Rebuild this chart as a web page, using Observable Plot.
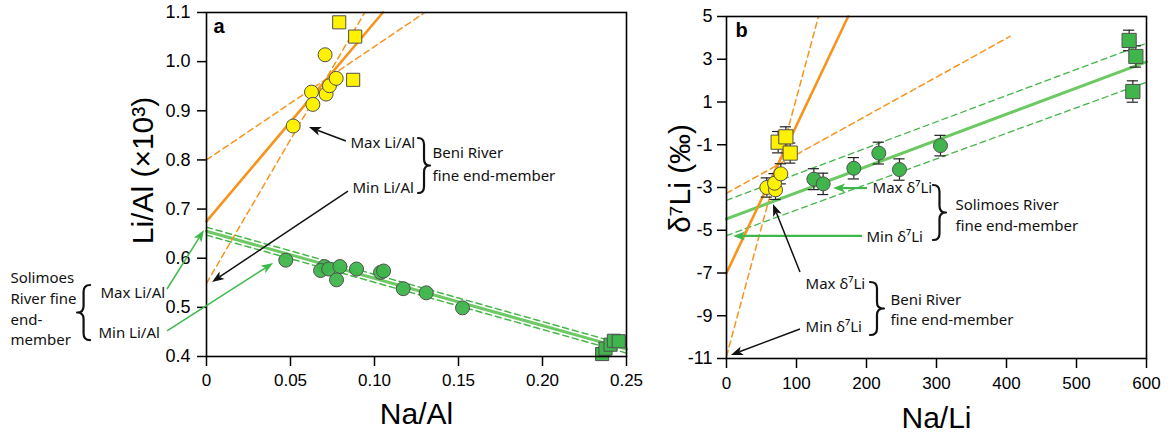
<!DOCTYPE html>
<html><head><meta charset="utf-8">
<script src="https://cdn.jsdelivr.net/npm/d3@7"></script>
<script src="https://cdn.jsdelivr.net/npm/@observablehq/plot@0.6"></script>
<style>
body{margin:0;background:#fff;}
#wrap{position:relative;width:1171px;height:442px;overflow:hidden;background:#fff}
#a{position:absolute;left:0;top:0}
#b{position:absolute;left:650px;top:0}
svg{overflow:visible}
</style></head><body><div id="wrap"><div id="a"></div><div id="b"></div></div>
<script>
// ---------- Panel a data (Na/Al vs Li/Al x10^3) ----------
const aBeniCircleNaAl = [0.0516,0.0706,0.0625,0.0633,0.0712,0.0732,0.0772];
const aBeniCircleLiAl = [0.869,1.014,0.938,0.913,0.934,0.951,0.966];
const aBeniSquareNaAl = [0.0790,0.0885,0.0873];
const aBeniSquareLiAl = [1.080,1.051,0.963];
const aSoliCircleNaAl = [0.0472,0.0702,0.0679,0.0728,0.0794,0.0774,0.0893,0.1036,0.1054,0.1171,0.1308,0.1524];
const aSoliCircleLiAl = [0.596,0.583,0.575,0.578,0.583,0.556,0.578,0.571,0.574,0.538,0.5295,0.499];
const aSoliSquareNaAl = [0.2355,0.2375,0.2405,0.2425,0.2454];
const aSoliSquareLiAl = [0.405,0.416,0.424,0.432,0.431];
// fit lines (end points)
const aBeniFitX = [0,0.105],   aBeniFitY = [0.675,1.1];
const aBeniMaxX = [0,0.130],   aBeniMaxY = [0.800,1.1];
const aBeniMinX = [0,0.0942],  aBeniMinY = [0.549,1.1];
const aSoliFitX = [0,0.25],    aSoliFitY = [0.655,0.415];
const aSoliMaxX = [0,0.25],    aSoliMaxY = [0.663,0.423];
const aSoliMinX = [0,0.25],    aSoliMinY = [0.647,0.407];
const aXTicks = [0,0.05,0.10,0.15,0.20,0.25];
const aXTickLabels = ["0","0.05","0.10","0.15","0.20","0.25"];
const aYTicks = [0.4,0.5,0.6,0.7,0.8,0.9,1.0,1.1];
const aYTickLabels = ["0.4","0.5","0.6","0.7","0.8","0.9","1.0","1.1"];

// ---------- Panel b data (Na/Li vs d7Li) ----------
const bBeniCircleNaLi = [57.6,70.0,68.6,77.6];
const bBeniCircleD7Li = [-3.00,-3.11,-2.80,-2.36];
const bBeniCircleErr  = [0.45,0.45,0.45,0.47];
const bBeniSquareNaLi = [73.8,84.8,91.0];
const bBeniSquareD7Li = [-0.88,-0.63,-1.39];
const bBeniSquareErr  = [0.50,0.47,0.47];
const bSoliCircleNaLi = [124.8,138.1,181.9,217.6,247.1,305.7];
const bSoliCircleD7Li = [-2.61,-2.83,-2.10,-1.39,-2.16,-1.04];
const bSoliCircleErr  = [0.49,0.50,0.50,0.51,0.50,0.48];
const bSoliSquareNaLi = [575.2,584.8,580.5];
const bSoliSquareD7Li = [3.88,3.13,1.49];
const bSoliSquareErr  = [0.48,0.50,0.50];
const bBeniFitX = [0,173.8],  bBeniFitY = [-7.0,5.0];
const bBeniMinX = [0,131.4],  bBeniMinY = [-10.9,5.0];
const bBeniMaxX = [0,405],    bBeniMaxY = [-3.27,4.07];
const bSoliFitX = [0,600],    bSoliFitY = [-4.47,2.88];
const bSoliMaxX = [0,600],    bSoliMaxY = [-3.60,3.75];
const bSoliMinX = [0,600],    bSoliMinY = [-5.25,1.93];
const bXTicks = [0,100,200,300,400,500,600];
const bXTickLabels = ["0","100","200","300","400","500","600"];
const bYTicks = [5,3,1,-1,-3,-5,-7,-9,-11];
const bYTickLabels = ["5","3","1","-1","-3","-5","-7","-9","-11"];

// ---------- styles ----------
const FONT = "'Liberation Sans', Arial, Helvetica, sans-serif";
const ANN = "'Noto Sans', 'Open Sans', sans-serif";
const ORANGE = "#f7941d";
const GLINE = "#6cc963";
const GDASH = "#45b649";
const GPT = "#3fb54c";
const YEL = "#fff200";
const PSTROKE = "#505050";

const pts = (xs, ys, es) => xs.map((x, i) => ({x, y: ys[i], e: es ? es[i] : 0}));
const lbl = (ticks, labels) => d => labels[ticks.findIndex(t => Math.abs(t - d) < 1e-9)];

function arrows(list) {
  return (index, scales) => {
    const g = d3.create("svg:g");
    for (const a of list) {
      const x1 = scales.x(a.x1), y1 = scales.y(a.y1), x2 = scales.x(a.x2), y2 = scales.y(a.y2);
      const dx = x2 - x1, dy = y2 - y1, L = Math.hypot(dx, dy), ux = dx / L, uy = dy / L;
      const hl = 12, hw = 4.5;
      const bx = x2 - ux * hl, by = y2 - uy * hl;
      g.append("line").attr("x1", x1).attr("y1", y1).attr("x2", bx + ux * 3).attr("y2", by + uy * 3)
        .attr("stroke", a.c).attr("stroke-width", a.w || 1.5);
      g.append("path").attr("d", `M${x2},${y2}L${bx - uy * hw},${by + ux * hw}L${bx + ux * 3},${by + uy * 3}L${bx + uy * hw},${by - ux * hw}Z`)
        .attr("fill", a.c);
    }
    return g.node();
  };
}
function braces(list) {
  return (index, scales) => {
    const g = d3.create("svg:g");
    for (const b of list) {
      const x = scales.x(b.x), y0 = scales.y(b.y0), y1 = scales.y(b.y1);
      const w = b.w * b.dir, m = (y0 + y1) / 2, h = y1 - y0, k = h * 0.12;
      const xm = x + w / 2, xt = x + w;
      const d = `M${x},${y0}Q${xm},${y0} ${xm},${y0 + k}L${xm},${m - k}Q${xm},${m} ${xt},${m}` +
                `Q${xm},${m} ${xm},${m + k}L${xm},${y1 - k}Q${xm},${y1} ${x},${y1}`;
      g.append("path").attr("d", d).attr("fill", "none").attr("stroke", "#111").attr("stroke-width", 2.2)
        .attr("stroke-linecap", "round").attr("stroke-linejoin", "round");
    }
    return g.node();
  };
}
const ann = list => Plot.text(list, {x: "x", y: "y", text: "t", textAnchor: "start", lineAnchor: "middle",
  fontFamily: ANN, fontSize: 15, fill: "#111"});

// ---------- Panel a ----------
const plotA = Plot.plot({
  width: 650, height: 442, marginLeft: 206, marginRight: 24, marginTop: 12, marginBottom: 86,
  style: {fontFamily: FONT, background: "white", color: "black", overflow: "visible"},
  x: {domain: [0, 0.25]}, y: {domain: [0.4, 1.1]},
  marks: [
    Plot.line(pts(aSoliMaxX, aSoliMaxY), {x: "x", y: "y", stroke: GDASH, strokeWidth: 1.5, strokeDasharray: "6,4"}),
    Plot.line(pts(aSoliMinX, aSoliMinY), {x: "x", y: "y", stroke: GDASH, strokeWidth: 1.5, strokeDasharray: "6,4"}),
    Plot.line(pts(aSoliFitX, aSoliFitY), {x: "x", y: "y", stroke: GLINE, strokeWidth: 3}),
    Plot.line(pts(aBeniMaxX, aBeniMaxY), {x: "x", y: "y", stroke: ORANGE, strokeWidth: 1.5, strokeDasharray: "6,4"}),
    Plot.line(pts(aBeniMinX, aBeniMinY), {x: "x", y: "y", stroke: ORANGE, strokeWidth: 1.5, strokeDasharray: "6,4"}),
    Plot.line(pts(aBeniFitX, aBeniFitY), {x: "x", y: "y", stroke: ORANGE, strokeWidth: 2.6}),
    Plot.dot(pts(aSoliCircleNaAl, aSoliCircleLiAl), {x: "x", y: "y", r: 7, fill: GPT, fillOpacity: 0.95, stroke: PSTROKE, strokeWidth: 1}),
    Plot.dot(pts(aSoliSquareNaAl, aSoliSquareLiAl), {x: "x", y: "y", r: 7.4, symbol: "square", fill: GPT, stroke: PSTROKE, strokeWidth: 1}),
    Plot.dot(pts(aBeniCircleNaAl, aBeniCircleLiAl), {x: "x", y: "y", r: 7, fill: YEL, stroke: PSTROKE, strokeWidth: 1}),
    Plot.dot(pts(aBeniSquareNaAl, aBeniSquareLiAl), {x: "x", y: "y", r: 7.4, symbol: "square", fill: YEL, stroke: PSTROKE, strokeWidth: 1}),
    Plot.frame({stroke: "black", strokeWidth: 1.6}),
    Plot.axisX({ticks: aXTicks, tickFormat: lbl(aXTicks, aXTickLabels), tickSize: 10, tickPadding: 7, fontSize: 17, label: null, strokeWidth: 1.5}),
    Plot.axisY({ticks: aYTicks, tickFormat: lbl(aYTicks, aYTickLabels), tickSize: 9, tickPadding: 7, fontSize: 18, label: null, strokeWidth: 1.5}),
    Plot.text(["Li/Al (×10³)"], {frameAnchor: "left", dx: -63, dy: -14, rotate: -90, textAnchor: "middle", lineAnchor: "middle", fontSize: 30, fontFamily: FONT}),
    Plot.text(["Na/Al"], {frameAnchor: "bottom", dy: 58, textAnchor: "middle", lineAnchor: "middle", fontSize: 30, fontFamily: FONT}),
    Plot.text(["a"], {x: 0.0042, y: 1.0715, textAnchor: "start", lineAnchor: "middle", fontSize: 20, fontWeight: "bold", fontFamily: FONT}),
    ann([
      {x: 0.0857, y: 0.8334, t: "Max Li/Al"},
      {x: 0.0869, y: 0.7418, t: "Min Li/Al"},
      {x: 0.1345, y: 0.813, t: "Beni River"},
      {x: 0.1345, y: 0.766, t: "fine end-member"},
      {x: -0.1167, y: 0.5587, t: "Solimoes"},
      {x: -0.1167, y: 0.516, t: "River fine"},
      {x: -0.1167, y: 0.4733, t: "end-"},
      {x: -0.1167, y: 0.4325, t: "member"},
      {x: -0.0631, y: 0.5282, t: "Max Li/Al"},
      {x: -0.0643, y: 0.4468, t: "Min Li/Al"}
    ]),
    arrows([
      {x1: 0.0833, y1: 0.8375, x2: 0.0613, y2: 0.866, c: "#111"},
      {x1: 0.0845, y1: 0.7357, x2: 0.0036, y2: 0.5506, c: "#111"},
      {x1: -0.0232, y1: 0.5363, x2: -0.0012, y2: 0.6564, c: "#3cb94a"},
      {x1: -0.0232, y1: 0.4509, x2: 0.0399, y2: 0.5892, c: "#3cb94a"}
    ]),
    braces([
      {x: 0.1262, y0: 0.8436, y1: 0.7317, w: 12, dir: 1},
      {x: -0.069, y0: 0.5445, y1: 0.4325, w: 13, dir: -1}
    ])
  ]
});
document.getElementById("a").appendChild(plotA);

// ---------- Panel b ----------
const errBars = (data) => [
  Plot.ruleX(data, {x: "x", y1: d => d.y - d.e, y2: d => d.y + d.e, stroke: "#222", strokeWidth: 1.2}),
  Plot.ruleY(data, {y: d => d.y + d.e, x1: d => d.x - 8, x2: d => d.x + 8, stroke: "#222", strokeWidth: 1.2}),
  Plot.ruleY(data, {y: d => d.y - d.e, x1: d => d.x - 8, x2: d => d.x + 8, stroke: "#222", strokeWidth: 1.2})
];
const bBC = pts(bBeniCircleNaLi, bBeniCircleD7Li, bBeniCircleErr);
const bBS = pts(bBeniSquareNaLi, bBeniSquareD7Li, bBeniSquareErr);
const bSC = pts(bSoliCircleNaLi, bSoliCircleD7Li, bSoliCircleErr);
const bSS = pts(bSoliSquareNaLi, bSoliSquareD7Li, bSoliSquareErr);

const plotB = Plot.plot({
  width: 521, height: 442, marginLeft: 76, marginRight: 25, marginTop: 16, marginBottom: 84,
  style: {fontFamily: FONT, background: "white", color: "black", overflow: "visible"},
  x: {domain: [0, 600]}, y: {domain: [-11, 5]},
  marks: [
    Plot.line(pts(bSoliMaxX, bSoliMaxY), {x: "x", y: "y", stroke: GDASH, strokeWidth: 1.3, strokeDasharray: "6,4"}),
    Plot.line(pts(bSoliMinX, bSoliMinY), {x: "x", y: "y", stroke: GDASH, strokeWidth: 1.3, strokeDasharray: "6,4"}),
    Plot.line(pts(bSoliFitX, bSoliFitY), {x: "x", y: "y", stroke: GLINE, strokeWidth: 3}),
    Plot.line(pts(bBeniMaxX, bBeniMaxY), {x: "x", y: "y", stroke: ORANGE, strokeWidth: 1.5, strokeDasharray: "6,4"}),
    Plot.line(pts(bBeniMinX, bBeniMinY), {x: "x", y: "y", stroke: ORANGE, strokeWidth: 1.5, strokeDasharray: "6,4"}),
    Plot.line(pts(bBeniFitX, bBeniFitY), {x: "x", y: "y", stroke: ORANGE, strokeWidth: 2.6}),
    ...errBars(bSC), ...errBars(bSS), ...errBars(bBC), ...errBars(bBS),
    Plot.dot(bSC, {x: "x", y: "y", r: 7, fill: GPT, stroke: PSTROKE, strokeWidth: 1}),
    Plot.dot(bSS, {x: "x", y: "y", r: 8, symbol: "square", fill: GPT, stroke: PSTROKE, strokeWidth: 1}),
    Plot.dot(bBC, {x: "x", y: "y", r: 7, fill: YEL, stroke: PSTROKE, strokeWidth: 1}),
    Plot.dot(bBS, {x: "x", y: "y", r: 8, symbol: "square", fill: YEL, stroke: PSTROKE, strokeWidth: 1}),
    Plot.frame({stroke: "black", strokeWidth: 1.6}),
    Plot.axisX({ticks: bXTicks, tickFormat: lbl(bXTicks, bXTickLabels), tickSize: 10, tickPadding: 8, fontSize: 17, label: null, strokeWidth: 1.5}),
    Plot.axisY({ticks: bYTicks, tickFormat: lbl(bYTicks, bYTickLabels), tickSize: 9, tickPadding: 5, fontSize: 18, label: null, strokeWidth: 1.5}),
    Plot.text(["δ⁷Li (‰)"], {frameAnchor: "left", dx: -46, dy: -9, rotate: -90, textAnchor: "middle", lineAnchor: "middle", fontSize: 30, fontFamily: FONT}),
    Plot.text(["Na/Li"], {frameAnchor: "bottom", dy: 60, textAnchor: "middle", lineAnchor: "middle", fontSize: 30, fontFamily: FONT}),
    Plot.text(["b"], {x: 12.9, y: 4.345, textAnchor: "start", lineAnchor: "middle", fontSize: 20, fontWeight: "bold", fontFamily: FONT}),
    ann([
      {x: 208.6, y: -3.05, t: "Max δ⁷Li"},
      {x: 200, y: -5.34, t: "Min δ⁷Li"},
      {x: 327, y: -3.84, t: "Solimoes River"},
      {x: 327, y: -4.82, t: "fine end-member"},
      {x: 112.9, y: -7.54, t: "Max δ⁷Li"},
      {x: 112.9, y: -9.55, t: "Min δ⁷Li"},
      {x: 234.3, y: -8.29, t: "Beni River"},
      {x: 234.3, y: -9.22, t: "fine end-member"}
    ]),
    arrows([
      {x1: 201.4, y1: -3.05, x2: 152.9, y2: -3.05, c: "#3cb94a", w: 2.2},
      {x1: 194.3, y1: -5.29, x2: 10, y2: -5.29, c: "#3cb94a", w: 2.2},
      {x1: 105.7, y1: -6.98, x2: 67.1, y2: -3.80, c: "#111"},
      {x1: 105.7, y1: -9.64, x2: 7.1, y2: -10.86, c: "#111"}
    ]),
    braces([
      {x: 295.7, y0: -2.906, y1: -5.48, w: 13, dir: 1},
      {x: 205.7, y0: -7.444, y1: -9.924, w: 14, dir: 1}
    ])
  ]
});
document.getElementById("b").appendChild(plotB);
</script></body></html>
